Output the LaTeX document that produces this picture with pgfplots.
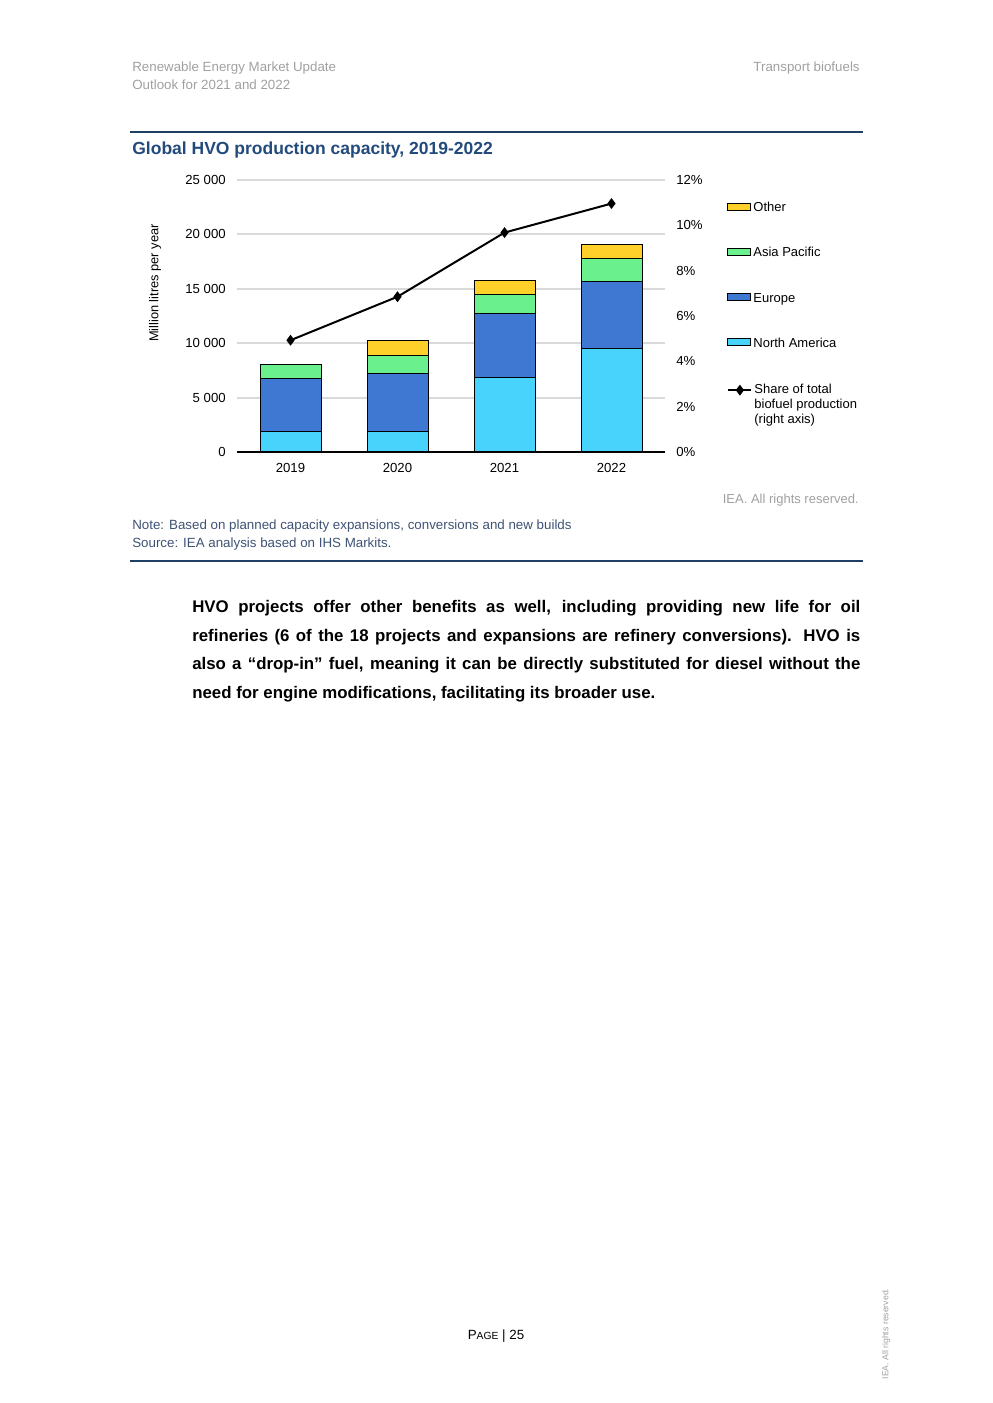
\documentclass[border=0pt]{standalone}
\usepackage{fontspec}
\setmainfont{Liberation Sans}
\usepackage{pgfplots}
\pgfplotsset{compat=1.18}
\definecolor{cNA}{HTML}{48D3FD}
\definecolor{cEU}{HTML}{3F78D3}
\definecolor{cAP}{HTML}{6AF08D}
\definecolor{cOT}{HTML}{FFD02A}
\definecolor{navy}{HTML}{1F3F66}
\definecolor{ttl}{HTML}{234A7C}
\definecolor{note}{HTML}{3E5274}
\definecolor{hdr}{HTML}{A0A0A0}
\definecolor{grd}{HTML}{D9D9D9}
\pgfplotsset{
  barlegend/.style={legend image code/.code={\draw[##1,line width=0.6pt] (0pt,-1pt) rectangle (13.8pt,3.2pt);}},
  sharelegend/.style={legend image code/.code={\draw[##1] (0pt,8.9pt) -- (13.8pt,8.9pt); \path[##1] plot coordinates {(6.9pt,8.9pt)};}},
}
\begin{document}
\begin{tikzpicture}
\begin{scope}[x=0.6pt,y=-0.6pt]
\path[use as bounding box] (0,0) rectangle (992,1403);
% header
\node[anchor=west,inner sep=0pt,font=\fontsize{8}{9.6}\selectfont,text=hdr] at (132,68) {Renewable Energy Market Update};
\node[anchor=west,inner sep=0pt,font=\fontsize{8}{9.6}\selectfont,text=hdr] at (132,85) {Outlook for 2021 and 2022};
\node[anchor=east,inner sep=0pt,font=\fontsize{8}{9.6}\selectfont,text=hdr] at (860,68) {Transport biofuels};
% rules
\draw[navy,line width=1.2pt] (130,132) -- (863,132);
\draw[navy,line width=0.8pt] (130,561) -- (863,561);
% title
\node[anchor=west,inner sep=0pt,font=\fontsize{10.5}{12}\selectfont\bfseries,text=ttl] at (132,150) {Global HVO production capacity, 2019-2022};
% notes
\node[anchor=east,inner sep=0pt,font=\fontsize{7.8}{9}\selectfont,text=hdr] at (859,500) {IEA. All rights reserved.};
\node[anchor=west,inner sep=0pt,font=\fontsize{8}{9}\selectfont,text=note] at (132,526) {Note: Based on planned capacity expansions, conversions and new builds};
\node[anchor=west,inner sep=0pt,font=\fontsize{8}{9}\selectfont,text=note] at (132,544) {Source: IEA analysis based on IHS Markits.};
% body text
\node[anchor=north west,inner sep=0pt,text width=400.8pt,align=justify,font=\fontsize{10.1}{17.1}\selectfont\bfseries] at (192,600) {HVO projects offer other benefits as well, including providing new life for oil\linebreak refineries (6 of the 18 projects and expansions are refinery conversions). HVO is\linebreak also a \textquotedblleft drop-in\textquotedblright{} fuel, meaning it can be directly substituted for diesel without the\linebreak need for engine modifications, facilitating its broader use.};
% footer
\node[inner sep=0pt,font=\fontsize{8}{9}\selectfont] at (496,1336) {P{\fontsize{6.2}{7}\selectfont AGE} | 25};
\node[rotate=90,inner sep=0pt,font=\fontsize{5.2}{6}\selectfont,text=hdr] at (886,1334) {IEA. All rights reserved.};
\end{scope}

\begin{axis}[
  at={(142.2pt,-271.2pt)}, anchor=south west,
  scale only axis, width=256.8pt, height=163.2pt,
  ybar stacked, bar width=36.6pt,
  xmin=-0.5, xmax=3.5, ymin=0, ymax=25000,
  scaled y ticks=false,
  xtick=data, xticklabels={2019,2020,2021,2022},
  ytick={0,5000,10000,15000,20000,25000},
  yticklabels={0,5 000,10 000,15 000,20 000,25 000},
  axis x line*=bottom, axis y line*=left, separate axis lines,
  x axis line style={black,line width=1.2pt,-},
  y axis line style={draw=none},
  major tick length=0pt,
  ymajorgrids, grid style={grd,line width=1.2pt},
  tick label style={font=\fontsize{7.9}{9}\selectfont, inner sep=0pt},
  yticklabel shift=6.6pt, xticklabel shift=6.6pt,
  ylabel={Million litres per year},
  every axis y label/.style={at={(axis description cs:-0.1916,0.621)},rotate=90,anchor=center,font=\fontsize{7.7}{9}\selectfont},
  every axis plot/.append style={draw=black,line width=0.6pt},
  legend style={draw=none,fill=none,at={(1.145,0.920)},anchor=north west,inner sep=0pt,
    font=\fontsize{7.8}{9}\selectfont, row sep=19.5pt, column sep=1.2pt,
    nodes={inner sep=0pt,text height=5.8pt,text depth=1.8pt}},
  legend cell align=left,
  reverse legend,
  barlegend,
]
\addplot[fill=cNA] coordinates {(0,1840) (1,1840) (2,6830) (3,9500)};
\addlegendentry{North America}
\addplot[fill=cEU] coordinates {(0,4900) (1,5420) (2,5880) (3,6130)};
\addlegendentry{Europe}
\addplot[fill=cAP] coordinates {(0,1290) (1,1650) (2,1750) (3,2140)};
\addlegendentry{Asia Pacific}
\addplot[fill=cOT] coordinates {(0,0) (1,1320) (2,1290) (3,1290)};
\addlegendentry{Other}
\end{axis}

\begin{axis}[
  at={(142.2pt,-271.2pt)}, anchor=south west,
  scale only axis, width=256.8pt, height=163.2pt,
  xmin=-0.5, xmax=3.5, ymin=0, ymax=12,
  axis x line=none, axis y line*=right,
  y axis line style={draw=none},
  major tick length=0pt,
  ytick={0,2,4,6,8,10,12},
  yticklabels={0\%,2\%,4\%,6\%,8\%,10\%,12\%},
  tick label style={font=\fontsize{7.9}{9}\selectfont, inner sep=0pt},
  yticklabel shift=6.6pt,
  legend style={draw=none,fill=none,at={(1.145,0.251)},anchor=north west,inner sep=0pt,
    font=\fontsize{7.8}{9}\selectfont, column sep=1.2pt,
    nodes={inner sep=0pt,align=left}},
  legend cell align=left,
  sharelegend,
]
\addplot[black,line width=1.2pt,mark=diamond*,mark size=2.3pt] coordinates {(0,4.93) (1,6.85) (2,9.68) (3,10.96)};
\addlegendentry{Share of total\\biofuel production\\(right axis)}
\end{axis}
\end{tikzpicture}
\end{document}
